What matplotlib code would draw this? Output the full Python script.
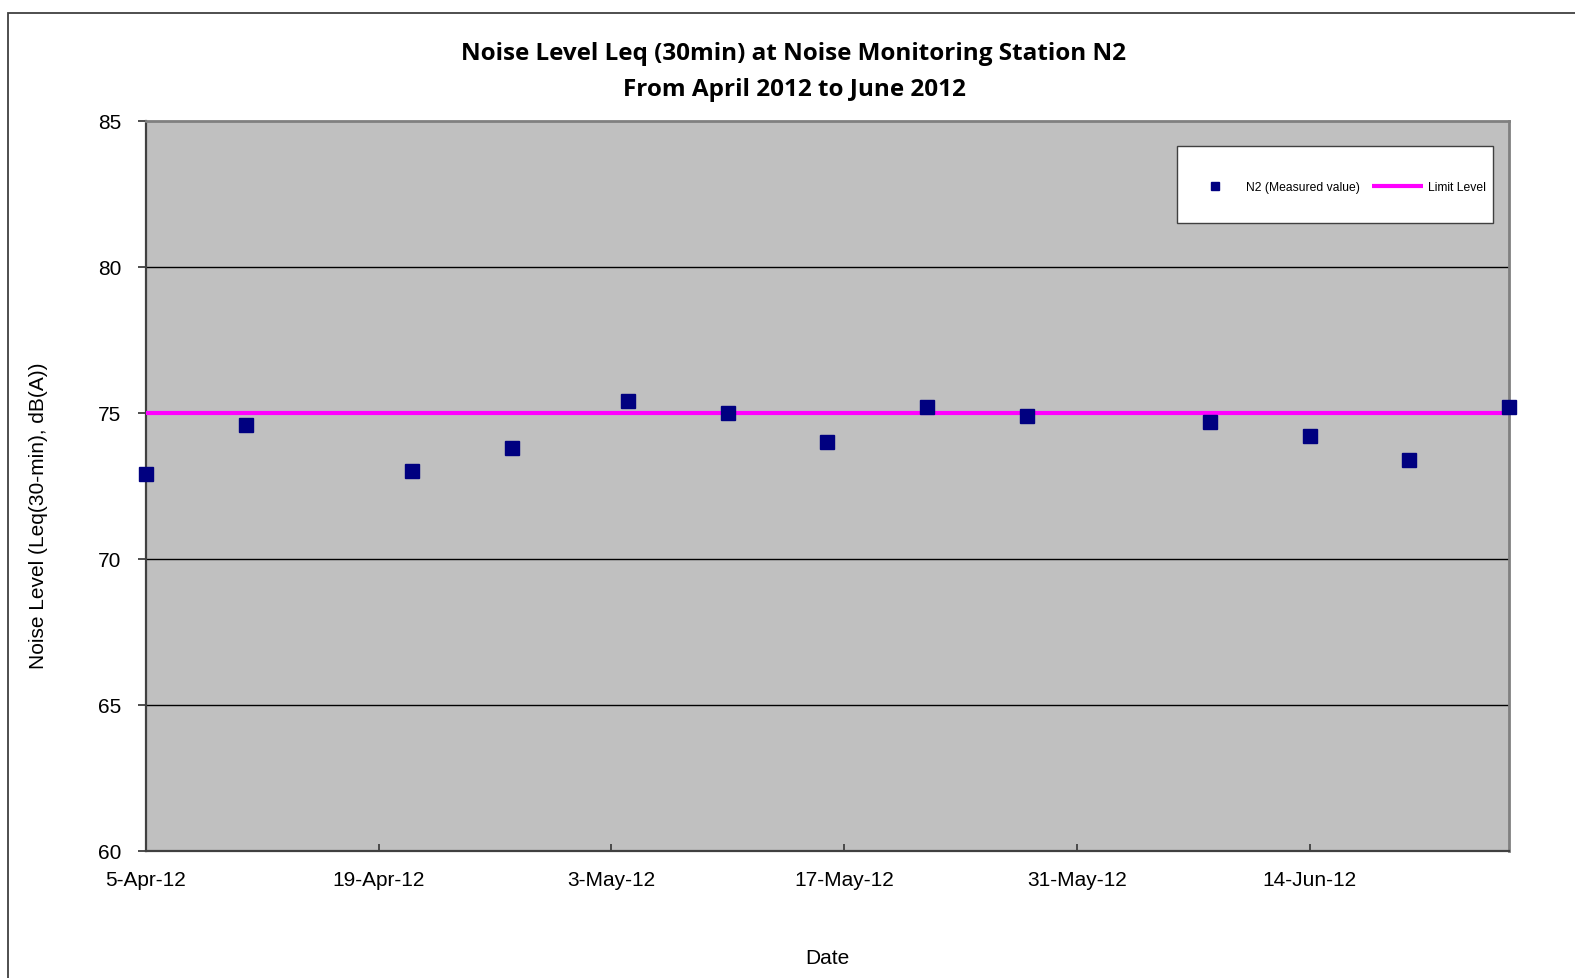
import datetime as dt
import matplotlib
matplotlib.use("Agg")
import matplotlib.pyplot as plt
import matplotlib.dates as mdates
from matplotlib.patches import Rectangle

# Measurement data for station N2
dates = ["2012-04-05", "2012-04-11", "2012-04-21", "2012-04-27", "2012-05-04",
         "2012-05-10", "2012-05-16", "2012-05-22", "2012-05-28", "2012-06-08",
         "2012-06-14", "2012-06-20", "2012-06-26"]
leq_values = [72.9, 74.6, 73.0, 73.8, 75.4, 75.0, 74.0, 75.2, 74.9, 74.7, 74.2, 73.4, 75.2]
limit_level = 75.0
x_start, x_end = "2012-04-05", "2012-06-26"
tick_dates = ["2012-04-05", "2012-04-19", "2012-05-03", "2012-05-17", "2012-05-31", "2012-06-14"]
y_ticks = [60, 65, 70, 75, 80, 85]

to_dt = lambda s: dt.datetime.strptime(s, "%Y-%m-%d")
x_vals = [to_dt(d) for d in dates]
x0, x1 = to_dt(x_start), to_dt(x_end)

W, H = 1575, 979
fig = plt.figure(figsize=(W / 100, H / 100), dpi=100)
fig.patch.set_facecolor("white")

# outer chart frame (only top and left edges inside the canvas)
fig.add_artist(Rectangle((8 / W, -0.05), 1.2, 1 - 13.5 / H + 0.05, transform=fig.transFigure,
                         fill=False, edgecolor="#404040", linewidth=1.3))

ax = fig.add_axes([146 / W, 1 - 852 / H, (1509 - 146) / W, (852 - 122) / H])
ax.set_facecolor("#c0c0c0")

for v in y_ticks[1:-1]:
    ax.axhline(v, color="black", linewidth=1.0, zorder=1)

ax.plot([x0, x1], [limit_level, limit_level], color="#ff00ff", linewidth=3.0,
        label="Limit Level", zorder=3, solid_capstyle="butt")
ax.plot(x_vals, leq_values, linestyle="none", marker="s", markersize=10.5,
        color="#000080", markeredgecolor="#000080", label="N2 (Measured value)",
        zorder=4, clip_on=False)

ax.set_xlim(x0, x1)
ax.set_ylim(60, 85)
ax.set_yticks(y_ticks)
ax.set_xticks([to_dt(d) for d in tick_dates])
ax.xaxis.set_major_formatter(mdates.DateFormatter("%-d-%b-%y"))

tick_font = {"family": "Liberation Sans", "size": 15}
for lbl in ax.get_xticklabels() + ax.get_yticklabels():
    lbl.set_fontfamily("Liberation Sans")
    lbl.set_fontsize(15)

ax.tick_params(axis="y", direction="out", length=5.8, width=1.3, color="#404040", pad=12)
ax.tick_params(axis="x", direction="in", length=5, width=1.3, color="#404040", pad=14)

for side in ("left", "bottom"):
    ax.spines[side].set_color("#404040")
    ax.spines[side].set_linewidth(1.6)
for side in ("top", "right"):
    ax.spines[side].set_color("#808080")
    ax.spines[side].set_linewidth(2.0)

ax.set_xlabel("Date", fontdict=tick_font, labelpad=42)
ax.set_ylabel("Noise Level (Leq(30-min), dB(A))", fontdict=tick_font)
ax.yaxis.set_label_coords(-0.072, 0.46)

fig.text(794 / W, 1 - 72 / H, "Noise Level Leq (30min) at Noise Monitoring Station N2\nFrom April 2012 to June 2012",
         ha="center", va="center", fontsize=17.5, fontweight="bold", family="Open Sans",
         linespacing=1.72)

# legend box with the legend entries drawn on top of it
fig.add_artist(Rectangle((1177 / W, 1 - 224 / H), (1493 - 1177) / W, 77 / H,
                         transform=fig.transFigure, facecolor="white",
                         edgecolor="#404040", linewidth=1.0, zorder=5))
handles, labels = ax.get_legend_handles_labels()
leg = fig.legend(handles[::-1], labels[::-1], loc="center left", ncol=2,
                 bbox_to_anchor=(1190 / W, 1 - 188 / H), bbox_transform=fig.transFigure,
                 prop={"family": "Liberation Sans", "size": 8.7}, frameon=False,
                 borderpad=0, handlelength=4.2, columnspacing=1.0, markerscale=0.5,
                 borderaxespad=0, handletextpad=0.45)
leg.set_zorder(6)

fig.savefig("out.png", dpi=100, facecolor="white")
